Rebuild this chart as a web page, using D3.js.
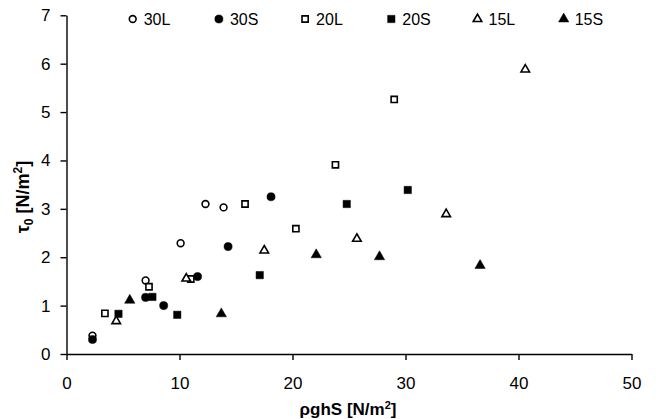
<!DOCTYPE html>
<html>
<head>
<meta charset="utf-8">
<script src="https://cdn.jsdelivr.net/npm/d3@7"></script>
<style>
    body { margin: 0; background: #fff; }
    text { font-family: "Liberation Sans", Arial, sans-serif; fill: #000; }
</style>
</head>
<body>
<svg id="chart"></svg>
<script>
// series names, in legend order
const seriesNames = ["30L", "30S", "20L", "20S", "15L", "15S"];
// [rho g h S, tau0] pairs
const s30L = [[2.3, 0.38], [7.0, 1.52], [10.1, 2.29], [12.3, 3.10], [13.9, 3.03]];
const s30S = [[2.3, 0.30], [7.0, 1.17], [8.6, 1.00], [11.6, 1.60], [14.3, 2.22], [18.1, 3.25]];
const s20L = [[3.4, 0.84], [7.3, 1.39], [11.0, 1.55], [15.8, 3.10], [20.3, 2.59], [23.8, 3.91], [29.0, 5.26]];
const s20S = [[4.6, 0.83], [7.6, 1.18], [9.8, 0.81], [17.1, 1.63], [24.8, 3.10], [30.2, 3.39]];
const s15L = [[4.4, 0.68], [10.6, 1.56], [17.5, 2.14], [25.7, 2.38], [33.6, 2.89], [40.6, 5.88]];
const s15S = [[5.6, 1.11], [13.7, 0.83], [22.1, 2.05], [27.7, 2.01], [36.6, 1.83]];
const xTicks = [0, 10, 20, 30, 40, 50];
const yTicks = [0, 1, 2, 3, 4, 5, 6, 7];

const seriesData = [s30L, s30S, s20L, s20S, s15L, s15S];
// marker shape and fill per series
const markers = [
    { shape: d3.symbolCircle, filled: false, size: 36 },
    { shape: d3.symbolCircle, filled: true, size: 52 },
    { shape: d3.symbolSquare, filled: false, size: 38 },
    { shape: d3.symbolSquare, filled: true, size: 54 },
    { shape: d3.symbolTriangle, filled: false, size: 32 },
    { shape: d3.symbolTriangle, filled: true, size: 46 }
];

function drawMarker(g, m) {
    g.append("path")
        .attr("d", d3.symbol().type(m.shape).size(m.size)())
        .attr("fill", m.filled ? "#000" : "#fff")
        .attr("stroke", "#000")
        .attr("stroke-width", m.filled ? 0.5 : 1.6);
}

function makeChart() {
    const w = 656;
    const h = 419;
    const svg = d3.select("#chart")
        .attr("width", w)
        .attr("height", h);

    const xScale = d3.scaleLinear().domain([0, 50]).range([66.5, 631.5]);
    const yScale = d3.scaleLinear().domain([0, 7]).range([354, 15.3]);

    const xAxis = svg.append("g")
        .attr("transform", "translate(0," + yScale(0) + ")")
        .call(d3.axisBottom(xScale).tickValues(xTicks).tickFormat(d3.format("d"))
            .tickSize(6).tickPadding(17).tickSizeOuter(0));
    const yAxis = svg.append("g")
        .attr("transform", "translate(" + xScale(0) + ",0)")
        .call(d3.axisLeft(yScale).tickValues(yTicks).tickFormat(d3.format("d"))
            .tickSize(6).tickPadding(10).tickSizeOuter(0));

    [xAxis, yAxis].forEach(ax => {
        ax.select(".domain").attr("stroke", "#000").attr("stroke-width", 1.4);
        ax.selectAll(".tick line").attr("stroke", "#000").attr("stroke-width", 1.4);
        ax.selectAll(".tick text")
            .attr("font-size", 17)
            .attr("font-family", "Liberation Sans, Arial, sans-serif")
            .attr("fill", "#000");
    });

    // points
    seriesData.forEach((data, i) => {
        svg.append("g")
            .selectAll("g")
            .data(data)
            .enter()
            .append("g")
            .attr("transform", d => "translate(" + xScale(d[0]) + "," + yScale(d[1]) + ")")
            .each(function () { drawMarker(d3.select(this), markers[i]); });
    });

    // legend
    const legend = svg.append("g");
    seriesNames.forEach((name, i) => {
        const lx = 132.7 + i * 86.2;
        const item = legend.append("g").attr("transform", "translate(" + lx + ",19)");
        drawMarker(item, markers[i]);
        item.append("text")
            .attr("x", 11)
            .attr("y", 6)
            .attr("font-size", 16)
            .text(name);
    });

    // axis titles
    const xTitle = svg.append("text")
        .attr("x", 348)
        .attr("y", 415)
        .attr("text-anchor", "middle")
        .attr("font-size", 17)
        .attr("font-weight", "bold");
    xTitle.append("tspan").text("ρghS [N/m");
    xTitle.append("tspan").attr("font-size", 11).attr("dy", -6).text("2");
    xTitle.append("tspan").attr("dy", 6).text("]");

    const yTitle = svg.append("text")
        .attr("transform", "translate(29,197) rotate(-90)")
        .attr("text-anchor", "middle")
        .attr("font-size", 18)
        .attr("font-weight", "bold");
    yTitle.append("tspan").text("τ");
    yTitle.append("tspan").attr("font-size", 12).attr("dy", 4).text("0");
    yTitle.append("tspan").attr("dy", -4).text(" [N/m");
    yTitle.append("tspan").attr("font-size", 12).attr("dy", -7).text("2");
    yTitle.append("tspan").attr("dy", 7).text("]");
}

document.addEventListener("DOMContentLoaded", makeChart);
</script>
</body>
</html>
